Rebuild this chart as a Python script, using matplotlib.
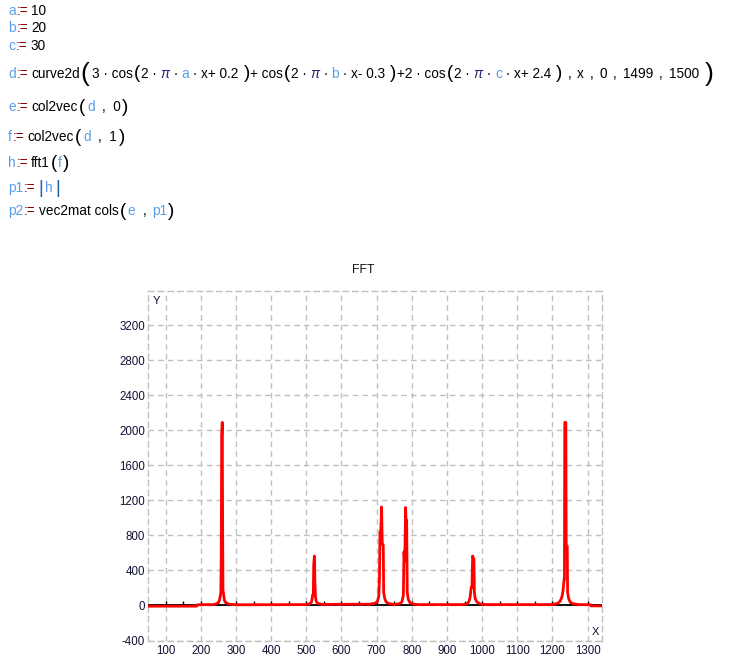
import numpy as np
import matplotlib
matplotlib.use("Agg")
import matplotlib.pyplot as plt
from matplotlib.markers import TICKUP

plt.rcParams['axes.unicode_minus'] = False

# 工作表变量
a_val, b_val, c_val = 10, 20, 30

# FFT 幅值曲线 (从图上读取的关键点)
freq = [49, 188, 190, 235, 245, 250, 253, 255, 257, 258, 259.5, 261, 262, 263, 265, 267, 270, 280, 300,
        500, 510, 515, 518, 520, 521, 523, 524.5, 526, 528, 532, 545,
        680, 695, 702, 706, 708, 709.5, 712, 714, 716, 718.8, 720, 723, 727, 735, 750,
        765, 772, 776, 777.8, 780, 782.4, 784, 785.4, 787, 790, 795, 805, 820,
        945, 958, 963, 966, 969, 971, 973, 976.6, 978, 980, 985, 995, 1010,
        1200, 1215, 1222, 1227, 1230, 1233, 1234, 1235, 1238, 1239, 1242, 1243, 1246, 1250, 1258, 1275,
        1308, 1310, 1340]
mag = [-8, -8, 8, 10, 20, 35, 60, 100, 150, 520, 1940, 2090, 1000, 180, 120, 60, 35, 15, 8,
       10, 20, 40, 120, 130, 460, 565, 258, 100, 50, 25, 12,
       15, 25, 45, 100, 300, 840, 860, 1125, 700, 690, 150, 80, 40, 20, 12,
       20, 40, 120, 613, 500, 1118, 900, 973, 150, 70, 30, 15, 10,
       10, 20, 50, 100, 209, 200, 565, 527, 150, 80, 40, 15, 10,
       10, 25, 50, 100, 167, 300, 300, 2090, 2090, 678, 678, 150, 80, 40, 20, 10,
       8, -5, -5]

x_ticks = list(range(100, 1301, 100))
y_ticks = list(range(-400, 3201, 400))

W, H = 730, 666
VAR = '#5a9de6'
RED = '#8b0000'
K = '#000000'
PI = '#1c2470'
FONT = 'Liberation Sans'
FS = 9.8

fig = plt.figure(figsize=(W / 100, H / 100), dpi=100)
renderer = fig.canvas.get_renderer()


def write_line(x0, y, parts, size=FS):
    """按顺序排列文本片段，数字表示间距(像素)"""
    x = x0
    for p in parts:
        if isinstance(p, (int, float)):
            x += p
            continue
        s, color = p[0], p[1]
        fs = p[2] if len(p) > 2 else size
        style = p[3] if len(p) > 3 else 'normal'
        t = fig.text(x / W, 1 - y / H, s, color=color, fontsize=fs, fontstyle=style,
                     va='center', ha='left', family=FONT)
        x += t.get_window_extent(renderer).width
    return x


def assign(name):
    return [(name, VAR), 1, (':=', RED), 3]


write_line(8, 11, assign('a') + [(str(a_val), K)])
write_line(8, 28, assign('b') + [(str(b_val), K)])
write_line(8, 46, assign('c') + [(str(c_val), K)])


def cos_term(v, sign, num):
    return [('(', K, 13.5), 1, ('2 · ', K), ('π', PI, FS, 'italic'), (' · ', K), (v, VAR),
            (' · x' + sign + ' ' + num, K), 5, (')', K, 13.5)]


# curve2d 的参数: 变量, 起点, 终点, 点数
args = []
for s in [',', 'x', ',', '0', ',', '1499', ',', '1500']:
    args += [(s, K), 6]

write_line(8, 74, assign('d') + [('curve2d', K), 1, ('(', K, 19), 2, ('3 · cos', K), 1]
           + cos_term('a', '+', '0.2') + [0, ('+ cos', K), 1]
           + cos_term('b', '-', '0.3') + [1, ('+2 · cos', K), 1]
           + cos_term('c', '+', '2.4') + [5] + args + [(')', K, 19)])

write_line(8, 107, assign('e') + [('col2vec', K), 1, ('(', K, 13.5), 2, ('d', VAR), 7, (',  0', K), 2, (')', K, 13.5)])
write_line(8, 137, assign('f') + [('col2vec', K), 1, ('(', K, 13.5), 2, ('d', VAR), 7, (',  1', K), 2, (')', K, 13.5)])
write_line(8, 163, assign('h') + [('fft1', K), 1, ('(', K, 13.5), 1, ('f', VAR), 1, (')', K, 13.5)])
write_line(8, 188, assign('p1') + [('|', '#1f5fa8', 13.5), 2, ('h', VAR), 2, ('|', '#1f5fa8', 13.5)])
write_line(8, 211, assign('p2') + [('vec2mat cols', K), 1, ('(', K, 13.5), 2, ('e', VAR), 7, (',', K), 6,
                                   ('p1', VAR), 1, (')', K, 13.5)])

# 图表区域
left, right, top, bottom = 147.7, 601.7, 291, 640.5
ax = fig.add_axes([left / W, 1 - bottom / H, (right - left) / W, (bottom - top) / H])
ax.set_xlim(49, 1340)
ax.set_ylim(-400, 3590)
ax.set_xticks(x_ticks)
ax.set_yticks(y_ticks)
ax.grid(True, color='#c0c0c0', linestyle=(0, (4, 3)), linewidth=1)
for sp in ax.spines.values():
    sp.set_color('#c0c0c0')
    sp.set_linestyle((0, (4, 3)))
    sp.set_linewidth(1)
ax.tick_params(length=0, labelsize=8.3, labelcolor='#111133', pad=3)
ax.tick_params(axis='y', pad=2)
for lab in ax.get_xticklabels() + ax.get_yticklabels():
    lab.set_family(FONT)

ax.axhline(0, color='k', lw=1.3, zorder=2)
tx = np.arange(100, 1301, 50)
ax.plot(tx, np.zeros_like(tx), ls='none', marker=TICKUP, ms=3, mew=1, color='k', zorder=2)
ax.plot(freq, mag, color='#ff0000', lw=2, zorder=3, clip_on=True)

ax.text(0.012, 0.985, 'Y', transform=ax.transAxes, fontsize=8, color='#111133', va='top', ha='left', family=FONT)
ax.text(0.995, 0.01, 'X', transform=ax.transAxes, fontsize=8, color='#111133', va='bottom', ha='right', family=FONT)
fig.text(363 / W, 1 - 270 / H, 'FFT', fontsize=8.8, color='#111111', ha='center', va='center', family=FONT)

fig.savefig('out.png', dpi=100)
